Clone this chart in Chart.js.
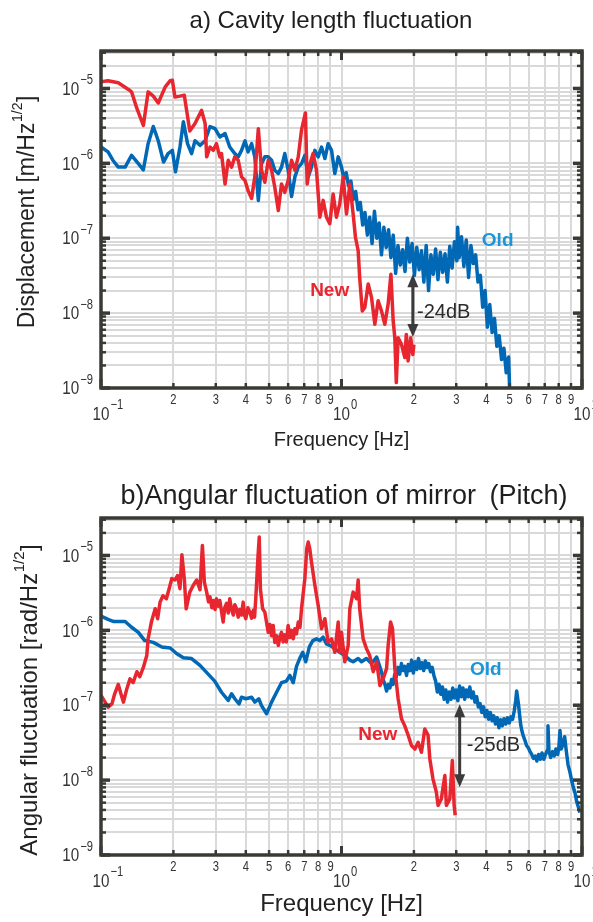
<!DOCTYPE html>
<html>
<head>
<meta charset="utf-8">
<script src="https://cdn.jsdelivr.net/npm/chart.js@4/dist/chart.umd.min.js"></script>
<style>
  html, body { margin: 0; padding: 0; background: #fff; }
  body { width: 593px; height: 922px; position: relative; overflow: hidden; }
  canvas { position: absolute; left: 0; }
  #chartA { top: 0; }
  #chartB { top: 460px; }
</style>
</head>
<body>
<canvas id="chartA" width="593" height="460"></canvas>
<canvas id="chartB" width="593" height="462"></canvas>
<script>
// ---- data ----
// a) cavity length, New (red)
const aNewFreq = [0.100,0.107,0.118,0.130,0.134,0.141,0.150,0.157,0.165,0.173,0.185,0.194,0.198,0.203,0.213,0.222,0.234,0.246,0.262,0.271,0.275,0.284,0.293,0.302,0.312,0.317,0.328,0.338,0.349,0.360,0.372,0.384,0.397,0.409,0.423,0.436,0.451,0.465,0.480,0.496,0.512,0.528,0.546,0.563,0.581,0.600,0.620,0.640,0.661,0.682,0.708,0.720,0.740,0.762,0.787,0.813,0.839,0.866,0.894,0.923,0.953,0.984,1.016,1.049,1.083,1.118,1.143,1.173,1.190,1.220,1.250,1.291,1.333,1.376,1.420,1.466,1.514,1.563,1.605,1.640,1.666,1.690,1.720,1.776,1.833,1.860,1.892,1.940,1.980,2.000];
const aNewVal = [1.23e-5,1.27e-5,1.19e-5,9.7e-6,9.0e-6,5.4e-6,3.2e-6,9.0e-6,7.9e-6,6.4e-6,1.05e-5,1.27e-5,1.29e-5,7.7e-6,7.9e-6,8.1e-6,2.7e-6,3.4e-6,5.1e-6,3.4e-6,1.22e-6,1.65e-6,1.49e-6,1.83e-6,1.22e-6,1.35e-6,5.3e-7,1.10e-6,8.9e-7,1.22e-6,1.10e-6,6.6e-7,5.9e-7,4.3e-7,3.4e-7,6.6e-7,2.9e-6,8.1e-7,5.6e-7,1.10e-6,8.1e-7,4.8e-7,2.35e-7,5.3e-7,4.1e-7,5.9e-7,1.10e-6,8.1e-7,1.22e-6,2.8e-6,4.7e-6,5.3e-7,9.9e-7,1.35e-6,8.1e-7,1.91e-7,3.2e-7,1.91e-7,1.56e-7,3.9e-7,1.91e-7,2.9e-7,6.6e-7,2.1e-7,5.3e-7,2.1e-7,1.03e-7,6.8e-8,3.0e-8,1.07e-8,1.19e-8,2.45e-8,1.62e-8,7.1e-9,1.46e-8,1.07e-8,7.1e-9,1.32e-8,3.3e-8,7.9e-9,4.7e-9,1.18e-9,4.7e-9,3.8e-9,2.55e-9,5.2e-9,2.3e-9,4.7e-9,2.8e-9,3.8e-9];

// a) cavity length, Old (blue)
const aOldFreq = [0.100,0.107,0.112,0.118,0.126,0.134,0.143,0.150,0.157,0.165,0.173,0.182,0.190,0.198,0.204,0.213,0.220,0.229,0.238,0.246,0.258,0.271,0.284,0.298,0.312,0.328,0.343,0.360,0.372,0.384,0.397,0.409,0.423,0.436,0.451,0.465,0.480,0.496,0.512,0.528,0.546,0.563,0.581,0.600,0.620,0.640,0.661,0.682,0.704,0.727,0.750,0.775,0.800,0.826,0.853,0.880,0.909,0.938,0.969,
  1.000,1.023,1.046,1.070,1.094,1.119,1.145,1.171,1.197,1.225,1.252,1.281,1.310,1.340,1.371,1.402,1.434,1.466,1.500,1.534,1.569,1.605,1.641,1.679,1.717,1.756,1.796,1.837,1.879,1.922,1.966,2.010,2.056,2.103,2.151,2.200,2.250,2.301,2.354,2.408,2.462,2.518,2.576,2.635,2.695,2.756,2.819,2.883,2.949,3.016,3.040,3.085,3.155,3.227,3.301,3.376,3.453,3.532,3.612,3.695,3.779,3.865,3.953,4.043,4.135,4.230,4.326,4.425,4.525,4.629,4.734,4.842,4.952,5.000];
const aOldVal = [1.65e-6,1.42e-6,1.10e-6,8.9e-7,8.9e-7,1.28e-6,9.9e-7,8.2e-7,1.83e-6,3.1e-6,2.0e-6,1.04e-6,1.35e-6,1.49e-6,7.7e-7,1.65e-6,3.6e-6,1.83e-6,1.35e-6,2.0e-6,1.74e-6,2.0e-6,3.1e-6,2.9e-6,2.25e-6,2.5e-6,1.65e-6,1.35e-6,1.22e-6,1.49e-6,2.0e-6,1.42e-6,1.83e-6,1.22e-6,3.2e-7,9.9e-7,1.22e-6,1.22e-6,1.10e-6,8.1e-7,7.3e-7,8.9e-7,1.35e-6,8.1e-7,3.6e-7,6.6e-7,8.9e-7,9.9e-7,1.28e-6,6.6e-7,8.9e-7,1.49e-6,1.22e-6,1.65e-6,1.16e-6,1.83e-6,1.49e-6,7.3e-7,1.22e-6,
  8.9e-7,6.2e-7,7.5e-7,5.0e-7,5.8e-7,3.3e-7,4.2e-7,2.4e-7,3.0e-7,1.5e-7,2.2e-7,1.1e-7,1.9e-7,8.5e-8,2.3e-7,1.0e-7,1.6e-7,6.0e-8,1.4e-7,7.5e-8,1.3e-7,5.5e-8,1.1e-7,3.4e-8,8.0e-8,4.4e-8,7.0e-8,3.6e-8,1.0e-7,4.8e-8,8.5e-8,3.2e-8,7.6e-8,3.8e-8,6.8e-8,2.6e-8,8.0e-8,2.0e-8,6.0e-8,3.3e-8,7.2e-8,2.8e-8,6.5e-8,3.5e-8,6.2e-8,2.6e-8,7.8e-8,4.0e-8,9.0e-8,5.0e-8,1.4e-7,5.5e-8,1.05e-7,4.2e-8,9.5e-8,3.0e-8,8.0e-8,4.6e-8,6.0e-8,2.6e-8,3.2e-8,1.2e-8,2.0e-8,6.5e-9,1.3e-8,5.5e-9,8.5e-9,3.6e-9,5.0e-9,2.4e-9,3.4e-9,1.6e-9,2.6e-9,1.0e-9];

// b) angular fluctuation (pitch), New (red)
const bNewFreq = [0.100,0.104,0.107,0.111,0.114,0.118,0.121,0.124,0.128,0.132,
  0.136,0.141,0.145,0.150,0.155,0.157,0.162,0.168,0.172,0.176,
  0.181,0.187,0.192,0.197,0.203,0.208,0.213,0.217,0.222,0.226,
  0.234,0.242,0.250,0.258,0.264,0.269,
  0.275,0.280,0.284,0.289,0.293,0.298,0.302,0.307,0.312,0.317,0.322,0.327,0.333,0.338,0.343,0.349,0.355,0.360,0.366,0.372,0.378,0.384,0.390,0.395,0.400,0.408,0.416,0.423,0.430,0.435,0.440,
  0.450,0.455,0.460,0.470,0.480,
  0.496,0.504,0.512,0.520,0.528,0.537,0.546,0.554,0.563,0.572,0.581,0.590,0.600,0.610,0.620,0.630,0.640,0.650,0.661,0.672,0.682,
  0.704,0.717,0.727,0.738,0.750,0.775,0.800,0.826,0.853,0.880,0.909,0.938,0.969,0.984,1.000,1.032,1.066,1.083,1.118,1.155,1.173,1.190,1.230,1.270,1.310,1.355,1.400,1.445,1.490,1.540,1.563,1.600,1.630,1.666,1.720,1.776,1.833,1.892,1.954,2.020,2.083,2.150,2.220,2.290,2.330,2.400,2.480,2.520,2.600,2.690,2.730,2.820,2.890,2.940,2.970];
const bNewVal = [1.35e-7,1.10e-7,9.4e-8,1.04e-7,1.42e-7,1.9e-7,1.42e-7,1.10e-7,1.65e-7,2.25e-7,
  2.0e-7,2.8e-7,2.4e-7,3.2e-7,4.6e-7,7.7e-7,1.29e-6,1.94e-6,1.43e-6,2.38e-6,
  2.9e-6,2.64e-6,3.6e-6,4.9e-6,4.7e-6,5.4e-6,3.6e-6,1.02e-5,4.9e-6,1.94e-6,
  3.24e-6,4.0e-6,4.7e-6,3.5e-6,1.36e-5,4.4e-6,
  3.24e-6,2.4e-6,2.8e-6,2.0e-6,2.5e-6,1.9e-6,2.64e-6,2.1e-6,2.5e-6,1.8e-6,1.29e-6,2.0e-6,2.3e-6,1.7e-6,2.64e-6,1.9e-6,1.6e-6,2.2e-6,1.94e-6,1.5e-6,1.9e-6,1.6e-6,2.38e-6,1.6e-6,1.43e-6,2.0e-6,1.75e-6,1.45e-6,1.85e-6,1.5e-6,2.64e-6,
  1.02e-5,1.76e-5,3.6e-6,1.94e-6,1.75e-6,
  9.4e-7,1.2e-6,8.5e-7,1.16e-6,6.9e-7,8.5e-7,6.3e-7,8.0e-7,9.4e-7,7.0e-7,8.7e-7,7.0e-7,1.16e-6,8.0e-7,1.0e-6,7.7e-7,1.05e-6,9.0e-7,1.29e-6,1.1e-6,1.94e-6,
  4.9e-6,1.23e-5,1.51e-5,1.23e-5,8.2e-6,4.0e-6,2.15e-6,1.05e-6,1.43e-6,6.9e-7,7.7e-7,5.1e-7,1.29e-6,5.1e-7,9.4e-7,3.8e-7,6.3e-7,1.94e-6,3.24e-6,2.64e-6,4.7e-6,1.94e-6,7.7e-7,5.7e-7,4.6e-7,2.8e-7,3.8e-7,1.83e-7,2.25e-7,3.1e-7,6.3e-7,1.29e-6,1.05e-6,3.1e-7,1.22e-7,6.6e-8,5.3e-8,4.0e-8,2.9e-8,2.6e-8,3.2e-8,2.35e-8,4.8e-8,4.0e-8,1.92e-8,1.04e-8,6.9e-9,4.6e-9,5.6e-9,1.15e-8,4.6e-9,5.6e-9,1.83e-8,4.6e-9,3.4e-9];

// b) angular fluctuation (pitch), Old (blue)
const bOldFreq = [0.100,0.107,0.113,0.126,0.134,0.143,0.152,0.165,0.179,0.194,0.206,0.220,0.238,0.258,0.279,0.297,0.317,0.338,0.349,0.360,0.375,0.384,0.400,0.423,0.436,0.453,0.465,0.488,0.512,0.537,0.563,0.590,0.610,0.630,0.650,0.670,0.690,0.710,0.735,0.760,0.787,0.813,0.839,0.866,0.894,0.938,0.984,1.032,1.083,1.118,1.173,1.211,1.270,1.333,1.400,
  1.466,1.490,1.515,1.540,1.565,1.590,1.615,1.640,1.665,1.690,1.718,1.746,1.775,1.804,1.834,1.864,1.895,1.926,1.958,1.990,2.023,2.056,2.090,2.125,2.160,2.196,2.232,2.269,2.306,2.344,2.383,2.422,2.462,2.503,2.544,2.586,2.629,2.672,2.716,2.761,2.807,2.853,2.900,2.948,2.997,3.046,3.097,3.148,3.200,3.253,3.306,3.361,3.416,3.473,3.530,3.588,3.648,3.708,3.769,3.831,3.895,3.959,4.024,4.091,4.159,4.227,4.297,4.368,4.440,4.514,4.588,4.664,4.741,4.820,4.899,4.980,5.063,5.146,5.231,5.300,5.350,5.400,5.450,5.500,5.560,5.620,5.700,5.790,5.880,5.980,6.080,6.180,6.280,6.390,6.490,6.600,6.710,6.820,6.940,7.050,7.170,7.220,7.290,7.410,7.540,7.660,7.790,7.920,8.020,8.100,8.190,8.330,8.470,8.610,8.750,8.900,9.050,9.200,9.350,9.500,9.650,9.800];
const bOldVal = [1.55e-6,1.4e-6,1.31e-6,1.31e-6,1.1e-6,9.4e-7,7.3e-7,6.9e-7,6.0e-7,5.8e-7,4.9e-7,4.3e-7,4.2e-7,3.4e-7,2.6e-7,2.1e-7,1.49e-7,1.16e-7,1.42e-7,1.22e-7,1.04e-7,1.28e-7,1.22e-7,1.28e-7,1.10e-7,1.22e-7,9.9e-8,7.7e-8,1.10e-7,1.49e-7,2.0e-7,2.1e-7,2.5e-7,2.0e-7,3.3e-7,4.2e-7,5.1e-7,3.8e-7,6.0e-7,7.3e-7,7.7e-7,7.3e-7,8.1e-7,6.6e-7,6.3e-7,5.7e-7,5.1e-7,4.6e-7,4.0e-7,3.8e-7,4.2e-7,3.8e-7,4.2e-7,3.6e-7,4.4e-7,
  2.8e-7,2.2e-7,1.9e-7,1.55e-7,1.9e-7,1.7e-7,2.2e-7,1.9e-7,2.6e-7,2.4e-7,3.2e-7,2.6e-7,3.6e-7,2.9e-7,3.3e-7,2.5e-7,3.5e-7,2.9e-7,4.0e-7,2.7e-7,3.8e-7,3.0e-7,4.2e-7,3.1e-7,3.7e-7,2.9e-7,3.9e-7,3.2e-7,3.6e-7,2.8e-7,3.2e-7,2.5e-7,2.1e-7,1.5e-7,1.9e-7,1.4e-7,1.75e-7,1.2e-7,1.6e-7,1.1e-7,1.5e-7,1.2e-7,1.7e-7,1.25e-7,1.6e-7,1.15e-7,1.8e-7,1.3e-7,1.7e-7,1.2e-7,1.6e-7,1.3e-7,1.75e-7,1.25e-7,1.5e-7,1.1e-7,1.3e-7,9.5e-8,1.05e-7,8.0e-8,9.5e-8,7.0e-8,8.5e-8,6.5e-8,8.0e-8,6.2e-8,7.2e-8,5.6e-8,6.8e-8,5.0e-8,6.4e-8,5.3e-8,6.6e-8,5.6e-8,6.8e-8,5.8e-8,7.0e-8,6.5e-8,8.5e-8,1.15e-7,1.55e-7,1.25e-7,1.0e-7,7.5e-8,5.5e-8,4.6e-8,3.9e-8,3.4e-8,2.9e-8,2.7e-8,2.4e-8,2.2e-8,1.95e-8,2.1e-8,1.8e-8,2.2e-8,1.9e-8,2.3e-8,1.9e-8,2.2e-8,2.5e-8,5.3e-8,2.4e-8,2.0e-8,2.4e-8,2.1e-8,2.6e-8,2.2e-8,2.8e-8,4.6e-8,2.6e-8,3.0e-8,3.8e-8,2.4e-8,1.6e-8,1.3e-8,1.0e-8,8.0e-9,6.8e-9,5.2e-9,4.4e-9,3.7e-9];

// axes
const xMin = 0.1, xMax = 10;
const yMin = 1e-9, yMax = 3.1623e-5;
const mantissas = [1, 2, 3, 4, 5, 6, 7, 8, 9];
const xDecades = [0.1, 1, 10];
const xDecadeExps = ['\u22121', '0', '1'];
const yDecades = [1e-9, 1e-8, 1e-7, 1e-6, 1e-5];
const yDecadeExps = ['\u22129', '\u22128', '\u22127', '\u22126', '\u22125'];

// annotations: [text, freq, value]
const aNotes = { old: ['Old', 4.46, 9.2e-8], fresh: ['New', 0.893, 1.98e-8], db: ['-24dB', 2.06, 1.03e-8], arrow: [1.98, 3.3e-8, 4.8e-9] };
const bNotes = { old: ['Old', 3.98, 3.0e-7], fresh: ['New', 1.415, 4.08e-8], db: ['-25dB', 3.32, 2.9e-8], arrow: [3.10, 1.03e-7, 8.0e-9] };

const RED = '#e8262f';
const BLUE = '#0068b4';
const OLD_TXT = '#1a95d6';
const GRID = '#d9d9d9';
const FRAME = '#3a3a35';
const FONT = "'Liberation Sans', Arial, sans-serif";

function points(freqs, vals) {
  return freqs.map((f, i) => ({ x: f, y: vals[i] }));
}

function buildXTicks(scale) {
  const ticks = [];
  xDecades.forEach((d, i) => {
    if (i === xDecades.length - 1) {
      ticks.push({ value: d, major: true, exp: xDecadeExps[i] });
      return;
    }
    mantissas.forEach(m => {
      if (m === 1) ticks.push({ value: d, major: true, exp: xDecadeExps[i] });
      else ticks.push({ value: d * m, major: false, txt: String(m) });
    });
  });
  scale.ticks = ticks;
}

function buildYTicks(scale) {
  const ticks = [];
  yDecades.forEach((d, i) => {
    mantissas.forEach(m => {
      const v = d * m;
      if (v > yMax * 1.0001) return;
      if (m === 1) ticks.push({ value: v, major: true, exp: yDecadeExps[i] });
      else ticks.push({ value: v, major: false });
    });
  });
  scale.ticks = ticks;
}

// narrow text: squeeze horizontally like the condensed face of the figure
function narrowText(ctx, text, x, y, size, align, squeeze) {
  ctx.save();
  ctx.font = size + 'px ' + FONT;
  const w = ctx.measureText(text).width * squeeze;
  let left = x;
  if (align === 'center') left = x - w / 2;
  else if (align === 'right') left = x - w;
  ctx.translate(left, y);
  ctx.scale(squeeze, 1);
  ctx.textAlign = 'left';
  ctx.fillText(text, 0, 0);
  ctx.restore();
  return w;
}

function measureNarrow(ctx, text, size, squeeze) {
  ctx.save();
  ctx.font = size + 'px ' + FONT;
  const w = ctx.measureText(text).width * squeeze;
  ctx.restore();
  return w;
}

// frame, inner tick marks, tick labels, titles and notes
const decorPlugin = {
  id: 'decor',
  afterDatasetsDraw(chart, args, opts) {
    const { ctx, chartArea: a, scales: { x, y } } = chart;
    ctx.save();
    ctx.strokeStyle = FRAME;
    ctx.lineCap = 'butt';
    const seg = (x1, y1, x2, y2) => { ctx.beginPath(); ctx.moveTo(x1, y1); ctx.lineTo(x2, y2); ctx.stroke(); };

    x.ticks.forEach(t => {
      const px = x.getPixelForValue(t.value);
      const len = t.major ? 9 : 5;
      ctx.lineWidth = t.major ? 3 : 2.5;
      seg(px, a.bottom, px, a.bottom - len);
      seg(px, a.top, px, a.top + len);
    });
    y.ticks.forEach(t => {
      const py = y.getPixelForValue(t.value);
      const len = t.major ? 9 : 5;
      ctx.lineWidth = t.major ? 3.5 : 2.5;
      seg(a.left, py, a.left + len, py);
      seg(a.right, py, a.right - len, py);
    });
    ctx.lineWidth = 3.5;
    ctx.strokeRect(a.left, a.top, a.right - a.left, a.bottom - a.top);

    // tick labels
    const SQ = 0.8;
    ctx.fillStyle = '#333';
    ctx.textBaseline = 'middle';
    x.ticks.forEach(t => {
      const px = x.getPixelForValue(t.value);
      if (t.exp !== undefined) {
        const w = narrowText(ctx, '10', px, a.bottom + 27, 19, 'center', SQ);
        narrowText(ctx, t.exp, px + w / 2 + 1, a.bottom + 17, 14, 'left', SQ);
      } else if (t.txt) {
        narrowText(ctx, t.txt, px, a.bottom + 12, 14, 'center', SQ);
      }
    });
    y.ticks.forEach(t => {
      if (t.exp === undefined) return;
      const py = y.getPixelForValue(t.value);
      const we = measureNarrow(ctx, t.exp, 14, SQ);
      narrowText(ctx, t.exp, a.left - 8, py - 8, 14, 'right', SQ);
      narrowText(ctx, '10', a.left - 9 - we, py + 1, 19, 'right', SQ);
    });

    // chart title
    ctx.fillStyle = '#1e1e1e';
    ctx.textAlign = 'center';
    ctx.font = opts.titleSize + 'px ' + FONT;
    ctx.fillText(opts.title, opts.titleX, opts.titleY);

    // y-axis title with superscript
    ctx.save();
    ctx.translate(opts.yTitleX, opts.yTitleY);
    ctx.rotate(-Math.PI / 2);
    ctx.fillStyle = '#222';
    ctx.textAlign = 'left';
    const big = opts.yTitleSize + 'px ' + FONT;
    const small = Math.round(opts.yTitleSize * 0.62) + 'px ' + FONT;
    ctx.font = big;
    const wA = ctx.measureText(opts.yTitle[0]).width;
    const wC = ctx.measureText(opts.yTitle[2]).width;
    ctx.font = small;
    const wB = ctx.measureText(opts.yTitle[1]).width;
    const sx = -(wA + wB + wC + 1) / 2;
    ctx.font = big;
    ctx.fillText(opts.yTitle[0], sx, 0);
    ctx.font = small;
    ctx.fillText(opts.yTitle[1], sx + wA + 0.5, -opts.yTitleSize * 0.42);
    ctx.font = big;
    ctx.fillText(opts.yTitle[2], sx + wA + wB + 1, 0);
    ctx.restore();

    // notes
    const n = opts.notes;
    ctx.textAlign = 'center';
    ctx.font = 'bold 19px ' + FONT;
    ctx.fillStyle = OLD_TXT;
    ctx.fillText(n.old[0], x.getPixelForValue(n.old[1]), y.getPixelForValue(n.old[2]));
    ctx.fillStyle = RED;
    ctx.fillText(n.fresh[0], x.getPixelForValue(n.fresh[1]), y.getPixelForValue(n.fresh[2]));
    ctx.font = '20px ' + FONT;
    ctx.fillStyle = '#2a2a2a';
    ctx.textAlign = 'left';
    ctx.fillText(n.db[0], x.getPixelForValue(n.db[1]), y.getPixelForValue(n.db[2]));

    const ax = x.getPixelForValue(n.arrow[0]);
    const ay1 = y.getPixelForValue(n.arrow[1]);
    const ay2 = y.getPixelForValue(n.arrow[2]);
    const head = 13, hw = 5.5;
    ctx.strokeStyle = '#3b3b3b';
    ctx.fillStyle = '#3b3b3b';
    ctx.lineWidth = 3;
    seg(ax, ay1 + head - 1, ax, ay2 - head + 1);
    ctx.beginPath();
    ctx.moveTo(ax, ay1); ctx.lineTo(ax - hw, ay1 + head); ctx.lineTo(ax + hw, ay1 + head); ctx.closePath(); ctx.fill();
    ctx.beginPath();
    ctx.moveTo(ax, ay2); ctx.lineTo(ax - hw, ay2 - head); ctx.lineTo(ax + hw, ay2 - head); ctx.closePath(); ctx.fill();
    ctx.restore();
  }
};

function makeChart(id, cfg) {
  return new Chart(document.getElementById(id), {
    type: 'scatter',
    data: {
      datasets: [
        { label: 'New', data: points(cfg.newF, cfg.newV), borderColor: RED, backgroundColor: RED },
        { label: 'Old', data: points(cfg.oldF, cfg.oldV), borderColor: BLUE, backgroundColor: BLUE }
      ]
    },
    options: {
      responsive: false,
      animation: false,
      devicePixelRatio: 1,
      events: [],
      datasets: {
        scatter: { showLine: true, pointRadius: 0, borderWidth: 3.5, tension: 0, borderJoinStyle: 'round', fill: false }
      },
      layout: { padding: { left: 0, right: 11, top: cfg.top, bottom: 0 } },
      plugins: {
        legend: { display: false },
        tooltip: { enabled: false },
        title: { display: false },
        decor: cfg.decor
      },
      scales: {
        x: {
          type: 'logarithmic', min: xMin, max: xMax, position: 'bottom',
          afterBuildTicks: buildXTicks,
          afterFit: s => { s.height = cfg.xHeight; },
          ticks: { display: false },
          grid: { color: GRID, lineWidth: 2, drawTicks: false },
          border: { display: false },
          title: { display: true, text: 'Frequency [Hz]', color: '#222', font: { family: FONT, size: cfg.xTitleSize }, padding: { top: 0, bottom: cfg.xTitlePad } }
        },
        y: {
          type: 'logarithmic', min: yMin, max: yMax,
          afterBuildTicks: buildYTicks,
          afterFit: s => { s.width = 101; },
          ticks: { display: false },
          grid: { color: GRID, lineWidth: 2, drawTicks: false },
          border: { display: false }
        }
      }
    },
    plugins: [decorPlugin]
  });
}

makeChart('chartA', {
  newF: aNewFreq, newV: aNewVal, oldF: aOldFreq, oldV: aOldVal,
  top: 51, xHeight: 72, xTitleSize: 20, xTitlePad: 8,
  decor: {
    title: 'a) Cavity length fluctuation', titleSize: 24, titleX: 331, titleY: 21,
    yTitle: ['Displacement [m/Hz', '1/2', ']'], yTitleSize: 23, yTitleX: 28, yTitleY: 212,
    notes: aNotes
  }
});

makeChart('chartB', {
  newF: bNewFreq, newV: bNewVal, oldF: bOldFreq, oldV: bOldVal,
  top: 58, xHeight: 67, xTitleSize: 24, xTitlePad: 3,
  decor: {
    title: 'b)Angular fluctuation of mirror\u2002(Pitch)', titleSize: 27, titleX: 344, titleY: 37,
    yTitle: ['Angular fluctuation [rad/Hz', '1/2', ']'], yTitleSize: 24, yTitleX: 30, yTitleY: 240,
    notes: bNotes
  }
});
</script>
</body>
</html>
